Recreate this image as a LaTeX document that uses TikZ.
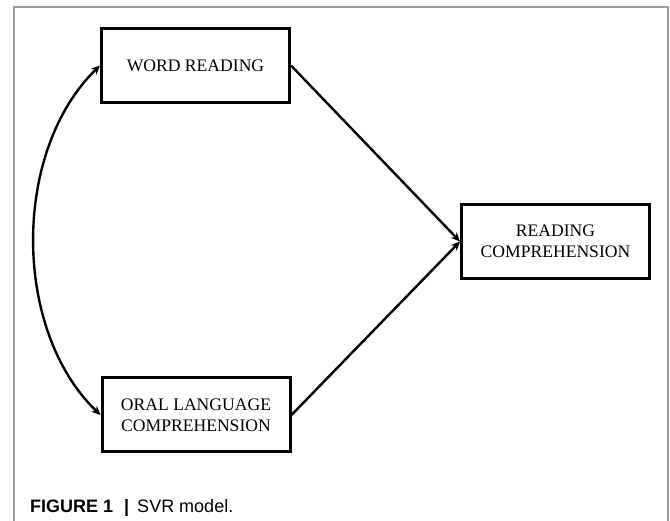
\documentclass[tikz,border=0pt]{standalone}
\usepackage{fontspec}
\setmainfont{Liberation Serif}
\newfontfamily\capfont{Liberation Sans}
\usetikzlibrary{arrows.meta}

\definecolor{framegray}{rgb}{0.62,0.62,0.62}

\tikzset{
    varbox/.style={draw=black, line width=3pt, minimum width=188pt, minimum height=74pt,
        align=center, inner sep=0pt, font=\fontsize{17.6}{21}\selectfont},
    path/.style={draw=black, line width=2.4pt, -{Stealth[length=9pt,width=8pt]}},
    covpath/.style={draw=black, line width=2.4pt, {Stealth[length=9pt,width=8pt]}-{Stealth[length=9pt,width=8pt]}}
}

\begin{document}
\begin{tikzpicture}[x=1pt,y=-1pt]
        \useasboundingbox (0,0) rectangle (670,521);
        \draw[framegray, line width=1.4pt] (14,521) -- (14,7) -- (668,7) -- (668,521);

        \node[varbox] (wr) at (195.5,65.5) {WORD READING};
        \node[varbox] (olc) at (196,415) {ORAL LANGUAGE\\COMPREHENSION};
        \node[varbox] (rc) at (555.5,241.5) {READING\\COMPREHENSION};

        \draw[path] (wr.east) -- (rc.west);
        \draw[path] (olc.east) -- (rc.west);
        \draw[covpath] (wr.west) .. controls (12,151) and (12,330) .. (olc.west);

        \node[anchor=base west, inner sep=0pt, font=\capfont\fontsize{18}{21}\selectfont] (cap) at (30,512)
            {\textbf{FIGURE 1}\hspace{11pt}\textbf{|}\hspace{8pt}SVR model.};
    \end{tikzpicture}
\end{document}
